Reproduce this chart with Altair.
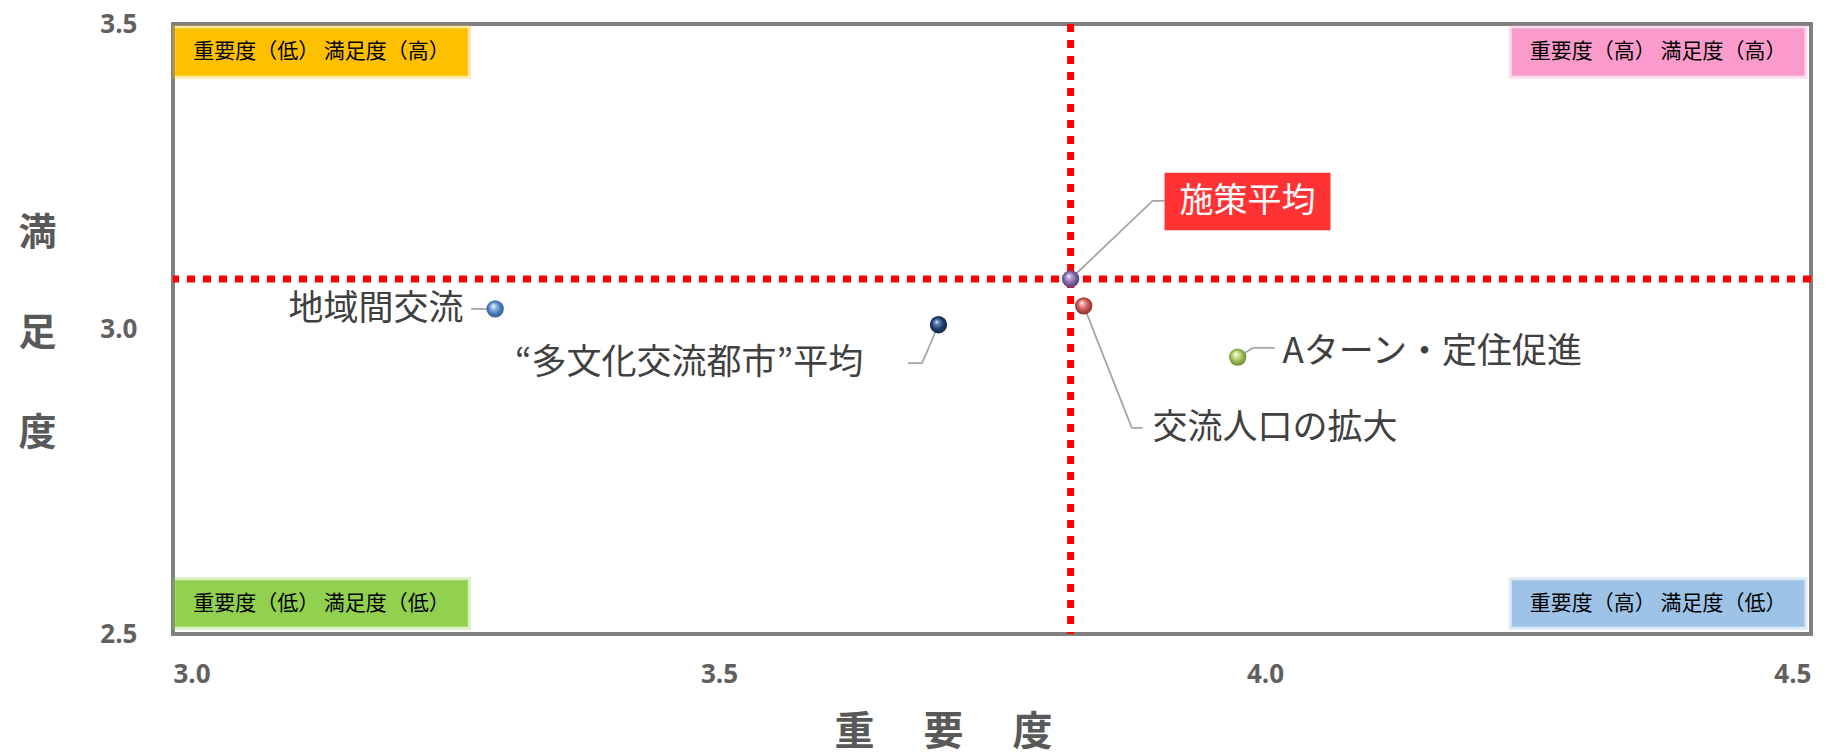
import altair as alt
import pandas as pd

# ---- data ----
names = ["地域間交流", "“多文化交流都市”平均", "施策平均", "交流人口の拡大", "Aターン・定住促進"]
importance = [3.295, 3.701, 3.822, 3.834, 3.975]
satisfaction = [3.033, 3.007, 3.082, 3.038, 2.954]
base_colors = ["#4F81BD", "#1F3D6B", "#8064A2", "#C0504D", "#9BBB59"]
light_colors = ["#A9CBF2", "#6A8CC2", "#C3B0DD", "#F3AAA8", "#DDF2A8"]
dark_colors = ["#2B5690", "#0E2141", "#4B376A", "#862826", "#647F25"]

avg_importance = 3.822
avg_satisfaction = 3.082

x_ticks = [3.0, 3.5, 4.0, 4.5]
y_ticks = [2.5, 3.0, 3.5]

# label anchors (data units) and leader-line elbows
label_x = [3.266, 3.632, 3.984, 3.897, 4.016]
label_y = [3.033, 2.944, 3.209, 2.838, 2.962]
label_align = ["right", "right", "center", "left", "left"]
elbow_x = [3.284, 3.686, 3.897, 3.878, 3.989]
elbow_y = [3.033, 2.944, 3.210, 2.838, 2.969]
end_x = [3.273, 3.673, 3.908, 3.888, 4.009]
end_y = [3.033, 2.944, 3.210, 2.838, 2.969]

# quadrant label boxes
quad_text = ["重要度（低） 満足度（高）", "重要度（高） 満足度（高）",
             "重要度（低） 満足度（低）", "重要度（高） 満足度（低）"]
quad_color = ["#FFC000", "#FA9BCB", "#92D050", "#9DC3E6"]
quad_x1 = [3.002, 4.226, 3.002, 4.226]
quad_x2 = [3.270, 4.494, 3.270, 4.494]
quad_y1 = [3.493, 3.493, 2.588, 2.588]
quad_y2 = [3.415, 3.415, 2.512, 2.512]

# red box for 施策平均
avg_box_x = [3.908, 4.060]
avg_box_y = [3.256, 3.162]

pts = pd.DataFrame({"name": names, "x": importance, "y": satisfaction})

leader_rows = []
for i, n in enumerate(names):
    leader_rows.append({"id": n, "o": 0, "x": importance[i], "y": satisfaction[i]})
    leader_rows.append({"id": n, "o": 1, "x": elbow_x[i], "y": elbow_y[i]})
    leader_rows.append({"id": n, "o": 2, "x": end_x[i], "y": end_y[i]})
leaders = pd.DataFrame(leader_rows)

labels = pd.DataFrame({"name": names, "x": label_x, "y": label_y, "align": label_align})
quads = pd.DataFrame({"t": quad_text, "c": quad_color, "x1": quad_x1, "x2": quad_x2,
                      "y1": quad_y1, "y2": quad_y2,
                      "xm": [(a + b) / 2 for a, b in zip(quad_x1, quad_x2)],
                      "ym": [(a + b) / 2 for a, b in zip(quad_y1, quad_y2)]})

JP = "Noto Sans CJK JP"

xs = alt.Scale(domain=[3.0, 4.5], nice=False, zero=False)
ys = alt.Scale(domain=[2.5, 3.5], nice=False, zero=False)

X = alt.X("x:Q", scale=xs, axis=alt.Axis(
    values=x_ticks, format=".1f", grid=False, ticks=False, domain=False,
    labelPadding=27, labelFontSize=26, labelFont="Open Sans", labelFontWeight="bold",
    labelColor="#606060",
    title="重　  要　  度", titleFont=JP, titleFontSize=40, titleFontWeight="bold",
    titleColor="#595959", titleX=770, titleY=98, titleAlign="center",
    titleBaseline="middle"))
Y = alt.Y("y:Q", scale=ys, axis=alt.Axis(
    values=y_ticks, format=".1f", grid=False, ticks=False, domain=False,
    labelPadding=36, labelFontSize=26, labelFont="Open Sans", labelFontWeight="bold",
    labelColor="#606060",
    title=["満", "足", "度"], titleFont=JP, titleFontSize=38, titleFontWeight="bold",
    titleColor="#595959", titleAngle=0, titleLineHeight=100, titleX=-136, titleY=209,
    titleAlign="center", titleBaseline="middle"))

base = alt.Chart(pts)

# quadrant boxes
qbox = alt.Chart(quads).mark_rect(strokeWidth=6, strokeOpacity=0.35).encode(
    x=alt.X("x1:Q", scale=xs), x2="x2:Q",
    y=alt.Y("y1:Q", scale=ys), y2="y2:Q",
    fill=alt.Fill("c:N", scale=None), stroke=alt.Stroke("c:N", scale=None))
qtext = alt.Chart(quads).mark_text(font=JP, fontSize=21, color="#000000",
                                   baseline="middle", align="center").encode(
    x=alt.X("xm:Q", scale=xs), y=alt.Y("ym:Q", scale=ys), text="t:N")

# dotted average lines
vline = alt.Chart(pd.DataFrame({"x": [avg_importance]})).mark_rule(
    color="#FF0000", strokeWidth=7, strokeDash=[8, 8]).encode(x=alt.X("x:Q", scale=xs))
hline = alt.Chart(pd.DataFrame({"y": [avg_satisfaction]})).mark_rule(
    color="#FF0000", strokeWidth=7, strokeDash=[8, 8]).encode(y=alt.Y("y:Q", scale=ys))

# leader lines
lead = alt.Chart(leaders).mark_line(color="#A6A6A6", strokeWidth=1.8).encode(
    x=alt.X("x:Q", scale=xs), y=alt.Y("y:Q", scale=ys),
    detail="id:N", order="o:Q")

# red box behind 施策平均
avg_box = alt.Chart(pd.DataFrame({"x1": [avg_box_x[0]], "x2": [avg_box_x[1]],
                                  "y1": [avg_box_y[0]], "y2": [avg_box_y[1]]})).mark_rect(
    color="#FF3333").encode(x=alt.X("x1:Q", scale=xs), x2="x2:Q",
                             y=alt.Y("y1:Q", scale=ys), y2="y2:Q")

# points with spherical gradient
point_layers = []
for i, n in enumerate(names):
    grad = {"gradient": "radial", "x1": 0.38, "y1": 0.32, "r1": 0.0,
            "x2": 0.5, "y2": 0.5, "r2": 0.55,
            "stops": [{"offset": 0.0, "color": "#FFFFFF"},
                      {"offset": 0.2, "color": light_colors[i]},
                      {"offset": 0.6, "color": base_colors[i]},
                      {"offset": 1.0, "color": dark_colors[i]}]}
    point_layers.append(
        base.transform_filter(alt.datum.name == n).mark_point(
            filled=True, shape="circle", size=300, fill=grad, opacity=1, strokeWidth=0
        ).encode(x=alt.X("x:Q", scale=xs), y=alt.Y("y:Q", scale=ys)))

# labels
label_layers = []
for i, n in enumerate(names):
    is_avg = (n == "施策平均")
    label_layers.append(
        alt.Chart(labels).transform_filter(alt.datum.name == n).mark_text(
            font=JP, fontSize=34 if is_avg else 35,
            color="#FFFFFF" if is_avg else "#404040",
            align=label_align[i], baseline="middle"
        ).encode(x=alt.X("x:Q", scale=xs), y=alt.Y("y:Q", scale=ys),
                 text="name:N"))

axes = base.mark_point(opacity=0).encode(x=X, y=Y)

chart = alt.layer(axes, qbox, qtext, vline, hline, lead, avg_box, *point_layers, *label_layers).properties(
    width=1638, height=610,
    autosize=alt.AutoSizeParams(type="none"),
    padding={"left": 165, "top": 16, "right": 12, "bottom": 130},
).configure_view(stroke="#7F7F7F", strokeWidth=4)

chart.save("out.html", embed_options={"renderer": "svg", "actions": False})
